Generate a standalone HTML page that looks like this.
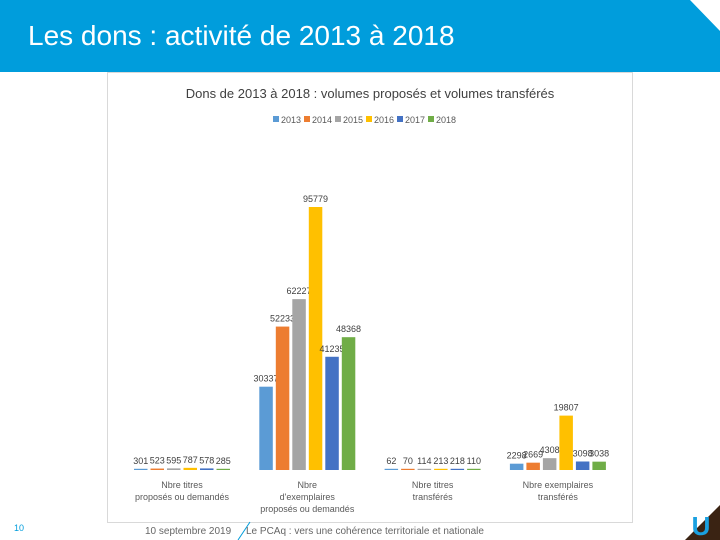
<!DOCTYPE html>
<html><head><meta charset="utf-8"><style>
body{margin:0;width:720px;height:540px;overflow:hidden;background:#fff;font-family:"Liberation Sans",sans-serif;position:relative}
.hdr{position:absolute;left:0;top:0;width:720px;height:72px;background:#009ddc}
.hdr h1{position:absolute;left:28px;top:20px;margin:0;font-weight:normal;font-size:28px;color:#fff}
</style></head><body>
<div class="hdr"><h1>Les dons : activité de 2013 à 2018</h1></div>
<svg width="720" height="540" style="position:absolute;left:0;top:0" id="svg">
<polygon points="690,0 720,0 720,31" fill="#fff"/>
<rect x="107.5" y="72.5" width="525" height="450" fill="#fff" stroke="#d9d9d9"/>
<text x="370" y="98" text-anchor="middle" font-size="13" fill="#404040">Dons de 2013 à 2018 : volumes proposés et volumes transférés</text>
<g id="legend"></g>
<g id="bars"></g>
<text x="14" y="531" font-size="9" fill="#009ddc">10</text>
<text x="145" y="534" font-size="10" fill="#666">10 septembre 2019</text>
<line x1="238" y1="540" x2="250" y2="522" stroke="#009ddc"/>
<text x="246" y="534" font-size="10" fill="#666">Le PCAq : vers une cohérence territoriale et nationale</text>
<polygon points="685,540 720,505 720,540" fill="#3a2313"/>
<text x="701" y="535" text-anchor="middle" font-size="26" fill="#1aa0e0" font-weight="bold">U</text>
</svg>
<script>
const years=["2013","2014","2015","2016","2017","2018"];
const colors=["#5b9bd5","#ed7d31","#a5a5a5","#ffc000","#4472c4","#70ad47"];
const categories=[["Nbre titres","proposés ou demandés"],["Nbre","d'exemplaires","proposés ou demandés"],["Nbre titres","transférés"],["Nbre exemplaires","transférés"]];
const s2013=[301,30337,62,2298];
const s2014=[523,52233,70,2669];
const s2015=[595,62227,114,4308];
const s2016=[787,95779,213,19807];
const s2017=[578,41235,218,3098];
const s2018=[285,48368,110,3038];
const series=[s2013,s2014,s2015,s2016,s2017,s2018];
const NS="http://www.w3.org/2000/svg";
const base=470,plotH=263,maxV=95779;
const y=v=>base-v/maxV*plotH;
const cx=i=>182+i*125.3;
const step=16.5,bw=13.5;
const g=document.getElementById('bars');
function mk(t,a,p){const e=document.createElementNS(NS,t);for(const k in a)e.setAttribute(k,a[k]);p.appendChild(e);return e;}
categories.forEach((c,i)=>{
  series.forEach((s,j)=>{
    const x=cx(i)+(j-2.5)*step-bw/2;
    const h=Math.max(base-y(s[i]),1.2);
    const r=mk('rect',{x:x,y:base-h,width:bw,height:h,fill:colors[j]},g);
    
    
    const t=mk('text',{x:x+bw/2,y:base-h-5,'text-anchor':'middle','font-size':9,fill:'#404040'},g);
    t.textContent=s[i];
    
    
  });
  c.forEach((line,k)=>{
    const t=mk('text',{x:cx(i),y:488+k*12,'text-anchor':'middle','font-size':9,fill:'#595959'},g);
    t.textContent=line;
    
    
  });
});
const lg=document.getElementById('legend');
years.forEach((yr,j)=>{
  const x=273+j*31;
  const r=mk('rect',{x:x,y:116,width:6,height:6,fill:colors[j]},lg);
  
  
  const t=mk('text',{x:x+8,y:123,'font-size':9,fill:'#595959'},lg);
  t.textContent=yr;
  
  
});
</script>
</body></html>
